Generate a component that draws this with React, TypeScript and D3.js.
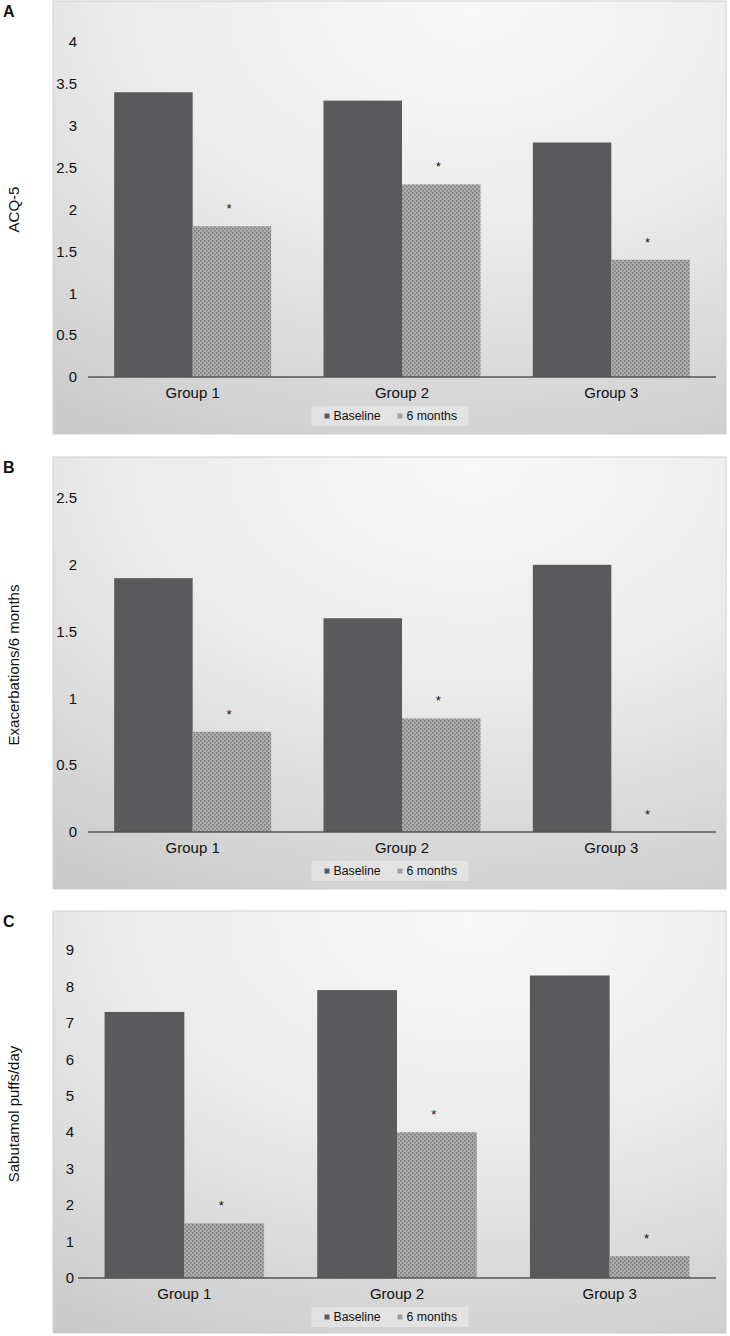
import React from "react";
import * as d3 from "d3";

const categories = ["Group 1", "Group 2", "Group 3"];
const seriesNames = ["Baseline", "6 months"];

const acqBaseline = [3.4, 3.3, 2.8];
const acqSixMonths = [1.8, 2.3, 1.4];
const acqTicks = [0, 0.5, 1, 1.5, 2, 2.5, 3, 3.5, 4];

const excBaseline = [1.9, 1.6, 2.0];
const excSixMonths = [0.75, 0.85, 0];
const excTicks = [0, 0.5, 1, 1.5, 2, 2.5];

const salBaseline = [7.3, 7.9, 8.3];
const salSixMonths = [1.5, 4.0, 0.6];
const salTicks = [0, 1, 2, 3, 4, 5, 6, 7, 8, 9];

const FONT = "'Liberation Sans', Arial, Helvetica, sans-serif";

type PanelProps = {
  id: string;
  letter: string;
  yTitle: string;
  baseline: number[];
  sixMonths: number[];
  ticks: number[];
  top: number;
  bottom: number;
  yTopPix: number;
  axisPix: number;
  plotLeft: number;
  plotRight: number;
  tickRight: number;
};

function Panel(p: PanelProps) {
  const panelLeft = 53;
  const panelRight = 726;
  const x = d3
    .scaleBand<string>()
    .domain(categories)
    .range([p.plotLeft, p.plotRight])
    .paddingInner(0.25)
    .paddingOuter(0.125);
  const xs = d3.scaleBand<string>().domain(seriesNames).range([0, x.bandwidth()]).padding(0);
  const yMax = p.ticks[p.ticks.length - 1];
  const y = d3.scaleLinear().domain([0, yMax]).range([p.axisPix, p.yTopPix]);
  const legendCx = (panelLeft + panelRight) / 2;
  const legendY = p.axisPix + 39;
  const fmt = (v: number) => String(v);
  return (
    <g>
      <rect
        x={panelLeft}
        y={p.top}
        width={panelRight - panelLeft}
        height={p.bottom - p.top}
        fill={`url(#bg-${p.id})`}
        stroke="#cfcfcf"
        strokeWidth={1}
      />
      <defs>
        <radialGradient id={`bg-${p.id}`} cx="0.62" cy="0.02" r="1.15" fx="0.62" fy="0.02">
          <stop offset="0" stopColor="#f8f8f8" />
          <stop offset="0.45" stopColor="#ebebeb" />
          <stop offset="1" stopColor="#c9c9c9" />
        </radialGradient>
      </defs>
      <text x={3} y={p.top + 16} fontFamily={FONT} fontWeight="bold" fontSize={16} fill="#111">
        {p.letter}
      </text>
      <text
        transform={`translate(19,${(p.axisPix + p.yTopPix) / 2}) rotate(-90)`}
        textAnchor="middle"
        fontFamily={FONT}
        fontSize={15}
        fill="#111"
      >
        {p.yTitle}
      </text>
      {p.ticks.map((t) => (
        <text
          key={t}
          x={p.tickRight}
          y={y(t)}
          dy="0.35em"
          textAnchor="end"
          fontFamily={FONT}
          fontSize={15}
          fill="#111"
        >
          {fmt(t)}
        </text>
      ))}
      {categories.map((c, i) => {
        const x0 = x(c)!;
        const vals = [p.baseline[i], p.sixMonths[i]];
        return (
          <g key={c}>
            {seriesNames.map((s, j) => (
              <rect
                key={s}
                x={x0 + xs(s)!}
                y={y(vals[j])}
                width={xs.bandwidth()}
                height={p.axisPix - y(vals[j])}
                fill={j === 0 ? "#5a5a5c" : `url(#dots)`}
              />
            ))}
            <text
              x={x0 + xs("6 months")! + xs.bandwidth() / 2 - 3}
              y={y(vals[1]) - 13}
              textAnchor="middle"
              fontFamily={FONT}
              fontSize={13}
              fill="#111"
            >
              *
            </text>
            <text
              x={x0 + x.bandwidth() / 2}
              y={p.axisPix + 21}
              textAnchor="middle"
              fontFamily={FONT}
              fontSize={15}
              fill="#111"
            >
              {c}
            </text>
          </g>
        );
      })}
      <line
        x1={p.plotLeft}
        x2={p.plotRight}
        y1={p.axisPix}
        y2={p.axisPix}
        stroke="#555"
        strokeWidth={1.5}
      />
      <g>
        <rect
          x={legendCx - 78}
          y={legendY - 10}
          width={157}
          height={20}
          fill="#ffffff"
          fillOpacity={0.35}
        />
        <rect x={legendCx - 65} y={legendY - 2.5} width={5} height={5} fill="#5a5a5c" />
        <text x={legendCx - 56} y={legendY} dy="0.35em" fontFamily={FONT} fontSize={12.3} fill="#111">
          {seriesNames[0]}
        </text>
        <rect x={legendCx + 8} y={legendY - 2.5} width={5} height={5} fill="#9e9e9e" />
        <text x={legendCx + 17} y={legendY} dy="0.35em" fontFamily={FONT} fontSize={12.3} fill="#111">
          {seriesNames[1]}
        </text>
      </g>
    </g>
  );
}

export default function App() {
  return (
    <svg
      width={730}
      height={1336}
      style={{ position: "absolute", left: 0, top: 0, display: "block", background: "#fff" }}
    >
      <defs>
        <pattern id="dots" patternUnits="userSpaceOnUse" width={4} height={4}>
          <rect width={4} height={4} fill="#adadad" />
          <rect x={0} y={0} width={1.6} height={1.6} fill="#7c7c7c" />
          <rect x={2} y={2} width={1.6} height={1.6} fill="#7c7c7c" />
        </pattern>
      </defs>
      <Panel
        id="a"
        letter="A"
        yTitle="ACQ-5"
        baseline={acqBaseline}
        sixMonths={acqSixMonths}
        ticks={acqTicks}
        top={1}
        bottom={434}
        yTopPix={42}
        axisPix={377}
        plotLeft={88}
        plotRight={716}
        tickRight={77}
      />
      <Panel
        id="b"
        letter="B"
        yTitle="Exacerbations/6 months"
        baseline={excBaseline}
        sixMonths={excSixMonths}
        ticks={excTicks}
        top={457}
        bottom={889}
        yTopPix={498}
        axisPix={832}
        plotLeft={88}
        plotRight={716}
        tickRight={77}
      />
      <Panel
        id="c"
        letter="C"
        yTitle="Sabutamol puffs/day"
        baseline={salBaseline}
        sixMonths={salSixMonths}
        ticks={salTicks}
        top={911}
        bottom={1333}
        yTopPix={950}
        axisPix={1278}
        plotLeft={78}
        plotRight={716}
        tickRight={74}
      />
    </svg>
  );
}
